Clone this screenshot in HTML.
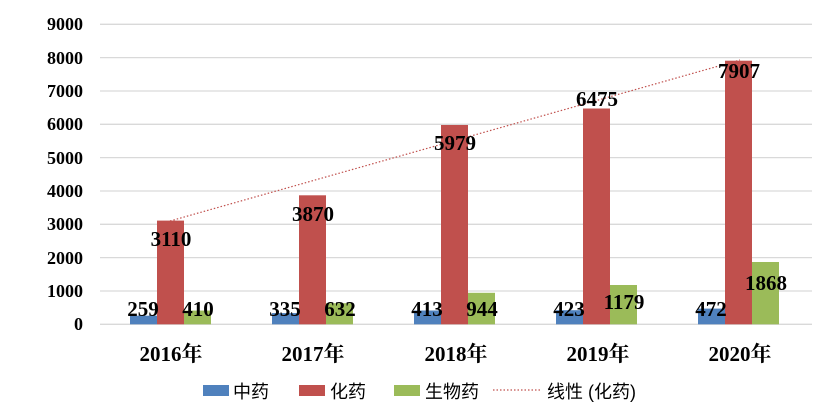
<!DOCTYPE html>
<html><head><meta charset="utf-8"><style>body{margin:0;background:#fff}</style></head><body>
<svg width="834" height="410" xmlns="http://www.w3.org/2000/svg" font-family="'Liberation Serif','Noto Serif CJK SC',serif" font-weight="bold">
<g stroke="#d9d9d9" stroke-width="1.3">
<line x1="100" x2="812" y1="24.3" y2="24.3"/><line x1="100" x2="812" y1="57.6" y2="57.6"/><line x1="100" x2="812" y1="91" y2="91"/><line x1="100" x2="812" y1="124.3" y2="124.3"/><line x1="100" x2="812" y1="157.6" y2="157.6"/><line x1="100" x2="812" y1="191" y2="191"/><line x1="100" x2="812" y1="224.3" y2="224.3"/><line x1="100" x2="812" y1="257.6" y2="257.6"/><line x1="100" x2="812" y1="291" y2="291"/><line x1="100" x2="812" y1="324.3" y2="324.3"/>
</g>
<g font-size="18" text-anchor="end" fill="#000">
<text x="83" y="30">9000</text><text x="83" y="64">8000</text><text x="83" y="97">7000</text><text x="83" y="130">6000</text><text x="83" y="164">5000</text><text x="83" y="197">4000</text><text x="83" y="230">3000</text><text x="83" y="264">2000</text><text x="83" y="297">1000</text><text x="83" y="330">0</text>
</g>
<g>
<rect x="130" y="315.7" width="27" height="8.6" fill="#4f81bd"/><rect x="157" y="220.6" width="27" height="103.7" fill="#c0504d"/><rect x="184" y="310.6" width="27" height="13.7" fill="#9bbb59"/>
<rect x="272" y="313.1" width="27" height="11.2" fill="#4f81bd"/><rect x="299" y="195.3" width="27" height="129" fill="#c0504d"/><rect x="326" y="303.2" width="27" height="21.1" fill="#9bbb59"/>
<rect x="414" y="310.5" width="27" height="13.8" fill="#4f81bd"/><rect x="441" y="125" width="27" height="199.3" fill="#c0504d"/><rect x="468" y="292.8" width="27" height="31.5" fill="#9bbb59"/>
<rect x="556" y="310.2" width="27" height="14.1" fill="#4f81bd"/><rect x="583" y="108.5" width="27" height="215.8" fill="#c0504d"/><rect x="610" y="285" width="27" height="39.3" fill="#9bbb59"/>
<rect x="698" y="308.6" width="27" height="15.7" fill="#4f81bd"/><rect x="725" y="60.7" width="27" height="263.6" fill="#c0504d"/><rect x="752" y="262" width="27" height="62.3" fill="#9bbb59"/>
</g>
<line x1="170" y1="221" x2="740" y2="60" stroke="#c0504d" stroke-width="1.2" stroke-dasharray="1.5,2"/>
<g font-size="21" text-anchor="middle" fill="#000">
<text x="143" y="316">259</text><text x="171" y="246">3110</text><text x="198" y="316">410</text>
<text x="285" y="316">335</text><text x="313" y="221">3870</text><text x="340" y="316">632</text>
<text x="427" y="316">413</text><text x="455" y="150">5979</text><text x="482" y="316">944</text>
<text x="569" y="316">423</text><text x="597" y="106">6475</text><text x="624" y="309">1179</text>
<text x="711" y="316">472</text><text x="739" y="78">7907</text><text x="766" y="290">1868</text>
</g>
<g font-size="21" text-anchor="middle" fill="#000">
<text x="171" y="361">2016年</text><text x="313" y="361">2017年</text><text x="456" y="361">2018年</text><text x="598" y="361">2019年</text><text x="740" y="361">2020年</text>
</g>
<g font-size="18" font-weight="normal" font-family="'Liberation Sans','Noto Sans CJK SC',sans-serif" fill="#000">
<rect x="203" y="385" width="26" height="11" fill="#4f81bd"/><text x="233" y="398">中药</text>
<rect x="299" y="385" width="26" height="11" fill="#c0504d"/><text x="330" y="398">化药</text>
<rect x="394" y="385" width="26" height="11" fill="#9bbb59"/><text x="425" y="398">生物药</text>
<line x1="493" y1="390" x2="540" y2="390" stroke="#c0504d" stroke-width="1.2" stroke-dasharray="1.5,2"/><text x="547" y="398">线性 (化药)</text>
</g>
</svg>
</body></html>
